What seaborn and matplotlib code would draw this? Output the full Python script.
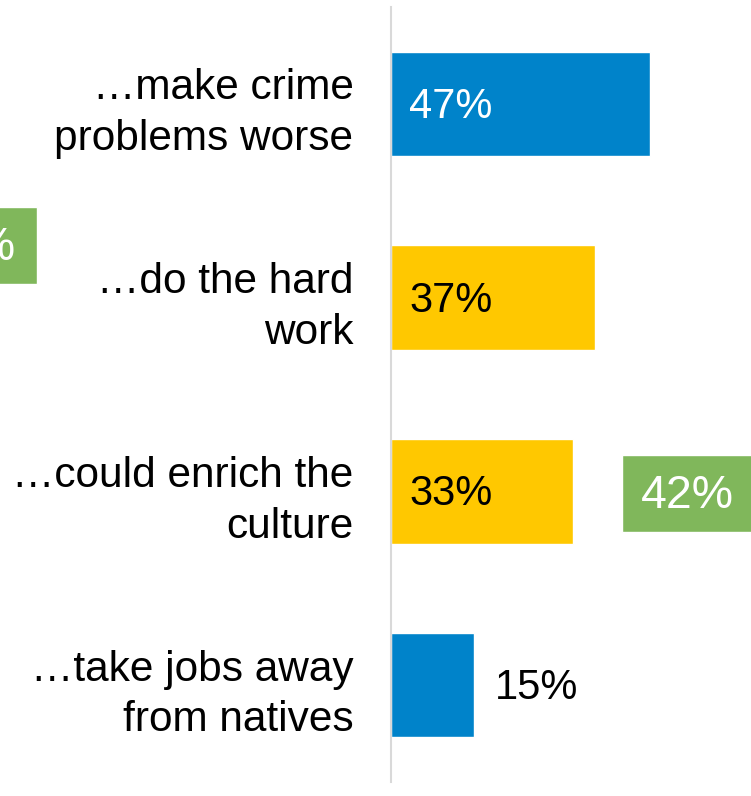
import matplotlib
matplotlib.use("Agg")
import matplotlib.pyplot as plt
import seaborn as sns
import pandas as pd

# data
categories = ["…make crime\nproblems worse", "…do the hard\nwork",
              "…could enrich the\nculture", "…take jobs away\nfrom natives"]
values = [47, 37, 33, 15]
bar_colors = ["#0083CA", "#FFC800", "#FFC800", "#0083CA"]
label_colors = ["white", "black", "black", "black"]
label_inside = [True, True, True, False]

# second series: only its green value boxes are visible (cropped slide)
green_labels = ["45%", "42%"]
green_rows = [0.73, 2.01]
green_left = [-88.5, 42.0]
green_width = 24.2
green_color = "#80B75B"

df = pd.DataFrame({"category": categories, "value": values})

sns.set_theme(style="white")
plt.rcParams["font.family"] = ["Liberation Sans", "DejaVu Sans"]

fig = plt.figure(figsize=(7.51, 7.96), dpi=100)
ax = fig.add_axes([391 / 751, 14 / 796, 360 / 751, 775 / 796])

sns.barplot(data=df, y="category", x="value", hue="category",
            palette=bar_colors, orient="h", width=0.54, legend=False,
            saturation=1, ax=ax)

ax.set_xlim(0, 360 / 5.5)
ax.set_ylim(3.5, -0.5)

for i, v in enumerate(values):
    x = 3.3 if label_inside[i] else v + 3.8
    ax.text(x, i + 0.015, f"{v}%", color=label_colors[i], fontsize=30,
            va="center", ha="left")

# green boxes of the other series
ax.barh(green_rows, [green_width] * 2, left=green_left, height=0.40,
        color=green_color, clip_on=False)
for r, l, t in zip(green_rows, green_left, green_labels):
    ax.text(l + green_width / 2 - 0.3, r + 0.015, t, color="white",
            fontsize=33.5, va="center", ha="center", clip_on=False)

ax.set_xlabel("")
ax.set_ylabel("")
ax.set_xticks([])
ax.tick_params(axis="y", length=0, pad=27, labelsize=30.5)
for lab in ax.get_yticklabels():
    lab.set_linespacing(1.35)
    lab.set_color("black")
for s in ["top", "right", "bottom"]:
    ax.spines[s].set_visible(False)
ax.spines["left"].set_color("#d9d9d9")
ax.spines["left"].set_linewidth(1.5)

fig.savefig("out.png", dpi=100)
